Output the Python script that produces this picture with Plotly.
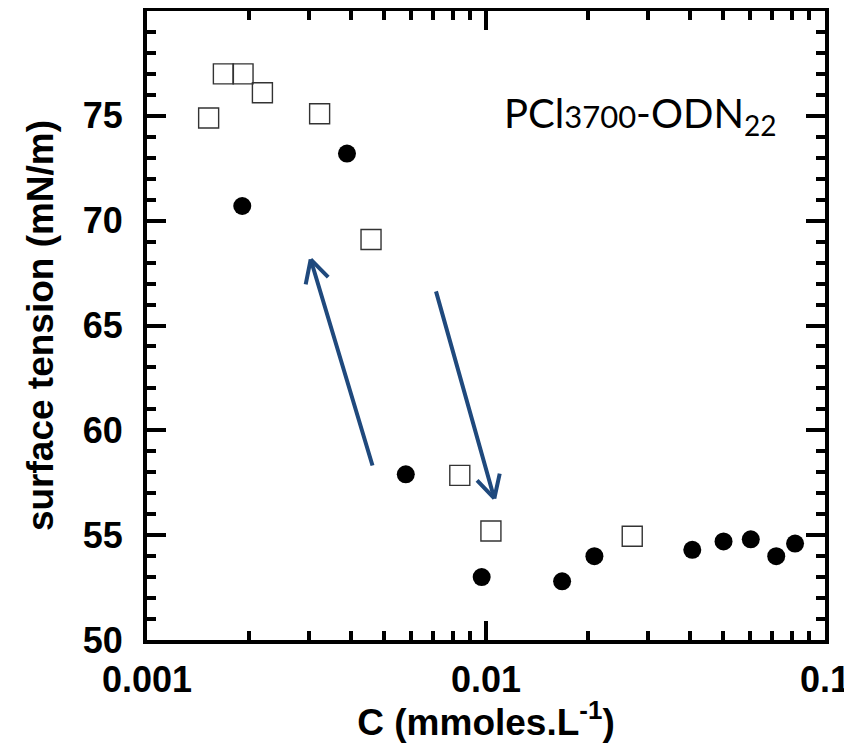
import math
import plotly.graph_objects as go

# ---- data ----
sq_c = [0.00152, 0.00168, 0.00192, 0.00219, 0.00323, 0.00458, 0.00837, 0.01034, 0.0270]
sq_st = [74.9, 77.0, 77.0, 76.1, 75.1, 69.1, 57.85, 55.2, 54.95]

dot_c = [0.00191, 0.00389, 0.00580, 0.00971, 0.01677, 0.02088, 0.0406, 0.0502, 0.0604, 0.0718, 0.0816]
dot_st = [70.7, 73.2, 57.9, 53.0, 52.8, 54.0, 54.3, 54.7, 54.8, 54.0, 54.6]

x_ticks = [0.001, 0.01, 0.1]
x_ticktext = ["0.001", "0.01", "0.1"]
y_range = [50, 80]

# arrows: (tail_c, tail_st, tip_c, tip_st)
arrows = [
    (0.00464, 58.25, 0.00304, 68.15),
    (0.00710, 66.7, 0.01058, 56.75),
]

label = "PCl<span style='font-size:31px'>3700</span>-ODN<sub>22</sub>"

# ---- layout geometry (page body adds an 8px offset) ----
W, H = 844, 735
ML, MR, MT, MB = 139, 27, 3, 103
PW, PH = W - ML - MR, H - MT - MB
XDEC = PW / 2.0              # px per decade
YU = PH / (y_range[1] - y_range[0])  # px per unit

ARROW_COL = "#1F497D"

fig = go.Figure()
fig.add_trace(go.Scatter(
    x=sq_c, y=sq_st, mode="markers",
    marker=dict(symbol="square-open", size=20, color="#333333", line=dict(width=1.4, color="#333333")),
    showlegend=False, hoverinfo="skip"))
fig.add_trace(go.Scatter(
    x=dot_c, y=dot_st, mode="markers",
    marker=dict(symbol="circle", size=18, color="black"),
    showlegend=False, hoverinfo="skip"))

annotations = []
for (tc, ts, hc, hs) in arrows:
    annotations.append(dict(
        x=math.log10(hc), y=hs, ax=math.log10(tc), ay=ts,
        xref="x", yref="y", axref="x", ayref="y",
        text="", showarrow=True, arrowhead=0, arrowwidth=4,
        arrowcolor=ARROW_COL, standoff=0, startstandoff=0))
    # V-shaped open head in pixel space
    dxp = (math.log10(hc) - math.log10(tc)) * XDEC
    dyp = -(hs - ts) * YU
    L = math.hypot(dxp, dyp)
    bx, by = -dxp / L, -dyp / L
    for ang in (28, -28):
        a = math.radians(ang)
        rx = bx * math.cos(a) - by * math.sin(a)
        ry = bx * math.sin(a) + by * math.cos(a)
        annotations.append(dict(
            x=math.log10(hc), y=hs, ax=rx * 27, ay=ry * 27,
            xref="x", yref="y", axref="pixel", ayref="pixel",
            text="", showarrow=True, arrowhead=0, arrowwidth=4,
            arrowcolor=ARROW_COL, standoff=0, startstandoff=0))

annotations.append(dict(
    x=0.727, y=0.834, xref="paper", yref="paper", text=label,
    showarrow=False, font=dict(family="Lato", size=40, color="black"),
    xanchor="center", yanchor="middle"))

minor_x = [m * d for d in (0.001, 0.01) for m in range(2, 10)]

tickfont = dict(family="Liberation Sans", size=36, color="black", weight="bold")
titlefont = dict(family="Liberation Sans", size=37, color="black", weight="bold")

fig.update_layout(
    width=W, height=H,
    margin=dict(l=ML, r=MR, t=MT, b=MB),
    paper_bgcolor="white", plot_bgcolor="white",
    annotations=annotations,
    xaxis=dict(
        type="log", range=[-3, -1], automargin=False,
        tickvals=x_ticks, ticktext=x_ticktext,
        ticks="inside", ticklen=19, tickwidth=3.5, tickcolor="black",
        ticklabelstandoff=5,
        minor=dict(tickmode="array", tickvals=minor_x, ticks="inside",
                   ticklen=9, tickwidth=3.5, tickcolor="black"),
        showline=True, linewidth=4, linecolor="black", mirror="ticks",
        showgrid=False, zeroline=False,
        tickfont=tickfont,
        title=dict(text="C (mmoles.L<sup>-1</sup>)", font=titlefont, standoff=0),
    ),
    yaxis=dict(
        range=y_range, dtick=5, tick0=50, automargin=False,
        ticks="inside", ticklen=19, tickwidth=3.5, tickcolor="black",
        ticklabelstandoff=13,
        minor=dict(dtick=1, ticks="inside", ticklen=9, tickwidth=3.5, tickcolor="black"),
        showline=True, linewidth=4, linecolor="black", mirror="ticks",
        showgrid=False, zeroline=False,
        tickfont=tickfont,
        title=dict(text="surface tension (mN/m)", font=titlefont, standoff=19),
    ),
)

fig.write_html("out.html")
